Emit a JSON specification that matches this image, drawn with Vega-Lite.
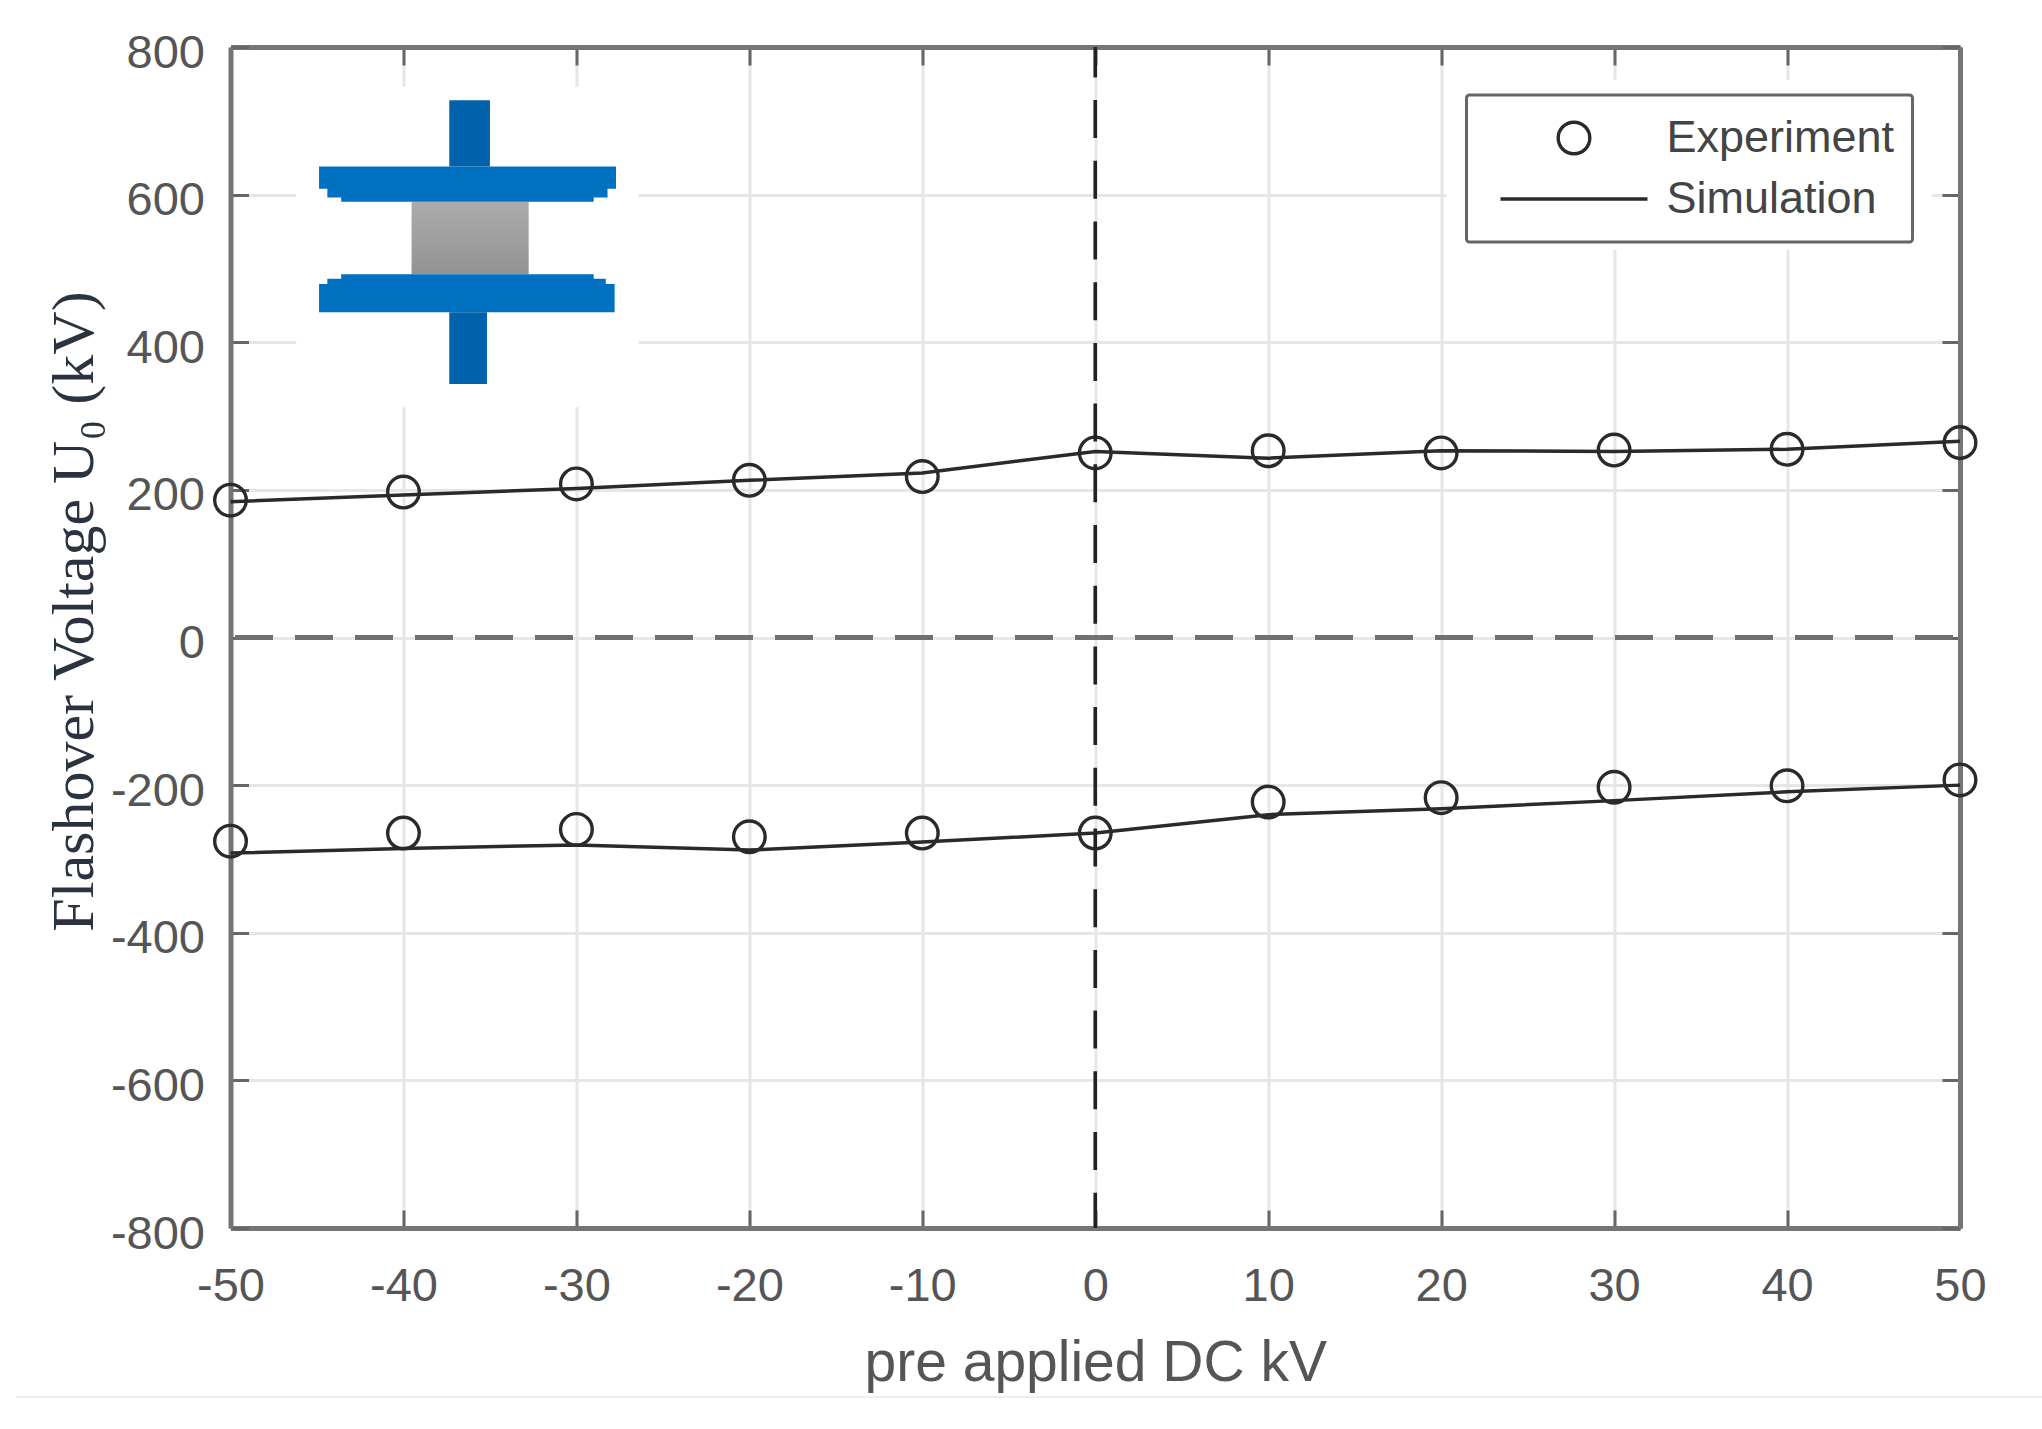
{
"$schema":"https://vega.github.io/schema/vega-lite/v6.json",
"width":1729.5,"height":1181,
"autosize":{"type":"none"},
"padding":{"left":230.5,"top":47,"right":82,"bottom":201},
"background":"white",
"view":{"stroke":null},
"config":{"font":"Liberation Sans","legend":{"strokeWidth":3,"strokeColor":"#666666"}},
"datasets":{
"series":[
{"dc":-50,"kv":186,"series":"Experiment","polarity":"positive"},{"dc":-40,"kv":197,"series":"Experiment","polarity":"positive"},{"dc":-30,"kv":208,"series":"Experiment","polarity":"positive"},{"dc":-20,"kv":213,"series":"Experiment","polarity":"positive"},{"dc":-10,"kv":218,"series":"Experiment","polarity":"positive"},{"dc":0,"kv":250,"series":"Experiment","polarity":"positive"},{"dc":10,"kv":253,"series":"Experiment","polarity":"positive"},{"dc":20,"kv":250,"series":"Experiment","polarity":"positive"},{"dc":30,"kv":254,"series":"Experiment","polarity":"positive"},{"dc":40,"kv":255,"series":"Experiment","polarity":"positive"},{"dc":50,"kv":264,"series":"Experiment","polarity":"positive"},
{"dc":-50,"kv":-276,"series":"Experiment","polarity":"negative"},{"dc":-40,"kv":-265,"series":"Experiment","polarity":"negative"},{"dc":-30,"kv":-260,"series":"Experiment","polarity":"negative"},{"dc":-20,"kv":-270,"series":"Experiment","polarity":"negative"},{"dc":-10,"kv":-265,"series":"Experiment","polarity":"negative"},{"dc":0,"kv":-265,"series":"Experiment","polarity":"negative"},{"dc":10,"kv":-223,"series":"Experiment","polarity":"negative"},{"dc":20,"kv":-217,"series":"Experiment","polarity":"negative"},{"dc":30,"kv":-203,"series":"Experiment","polarity":"negative"},{"dc":40,"kv":-201,"series":"Experiment","polarity":"negative"},{"dc":50,"kv":-193,"series":"Experiment","polarity":"negative"},
{"dc":-50,"kv":184,"series":"Simulation","polarity":"positive"},{"dc":-40,"kv":193,"series":"Simulation","polarity":"positive"},{"dc":-30,"kv":202,"series":"Simulation","polarity":"positive"},{"dc":-20,"kv":213,"series":"Simulation","polarity":"positive"},{"dc":-10,"kv":223,"series":"Simulation","polarity":"positive"},{"dc":0,"kv":252,"series":"Simulation","polarity":"positive"},{"dc":10,"kv":243,"series":"Simulation","polarity":"positive"},{"dc":20,"kv":253,"series":"Simulation","polarity":"positive"},{"dc":30,"kv":252,"series":"Simulation","polarity":"positive"},{"dc":40,"kv":255,"series":"Simulation","polarity":"positive"},{"dc":50,"kv":266,"series":"Simulation","polarity":"positive"},
{"dc":-50,"kv":-292,"series":"Simulation","polarity":"negative"},{"dc":-40,"kv":-286,"series":"Simulation","polarity":"negative"},{"dc":-30,"kv":-281,"series":"Simulation","polarity":"negative"},{"dc":-20,"kv":-288,"series":"Simulation","polarity":"negative"},{"dc":-10,"kv":-277,"series":"Simulation","polarity":"negative"},{"dc":0,"kv":-265,"series":"Simulation","polarity":"negative"},{"dc":10,"kv":-240,"series":"Simulation","polarity":"negative"},{"dc":20,"kv":-232,"series":"Simulation","polarity":"negative"},{"dc":30,"kv":-221,"series":"Simulation","polarity":"negative"},{"dc":40,"kv":-209,"series":"Simulation","polarity":"negative"},{"dc":50,"kv":-200,"series":"Simulation","polarity":"negative"}
],
"insetBackground":[{"x":-46.2,"x2":-26.4,"y":746,"y2":312},{"x":20.3,"x2":48.4,"y":755,"y2":525}],
"plates":[
{"x":-44.88,"x2":-27.71,"y":638,"y2":608},
{"x":-44.4,"x2":-28.2,"y":625,"y2":596},
{"x":-43.6,"x2":-29,"y":620,"y2":590.5},
{"x":-43.6,"x2":-29,"y":492,"y2":470},
{"x":-44.4,"x2":-28.3,"y":486,"y2":470},
{"x":-44.88,"x2":-27.79,"y":479,"y2":440.5}
],
"stems":[{"x":-37.35,"x2":-35.0,"y":728,"y2":638},{"x":-37.35,"x2":-35.17,"y":440.5,"y2":343.6}],
"insulator":[{"x":-39.53,"x2":-32.76,"y":590.5,"y2":492}],
"zeroKv":[{"kv":0}],
"zeroDc":[{"dc":0}],
"footer":[{"x":-62.4,"x2":103.8,"y":-1029}]
},
"resolve":{"axis":{"x":"independent","y":"independent"}},
"layer":[
{"data":{"name":"series"},"transform":[{"filter":"datum.series==='Simulation'"}],
"mark":{"type":"line","color":"#2a2a2a","strokeWidth":3.5,"clip":false},
"encoding":{
"x":{"field":"dc","type":"quantitative","scale":{"domain":[-50,50],"nice":false},
"axis":{"orient":"bottom","values":[-50,-40,-30,-20,-10,0,10,20,30,40,50],"title":"pre applied DC kV","titleFontSize":57,"titleFont":"Liberation Sans","titleFontWeight":"normal","titleColor":"#555555","titlePadding":26,
"labelFontSize":47,"labelColor":"#555555","labelPadding":53,"labelFlush":false,"labelOverlap":false,"labelExpr":"''+datum.value",
"domain":true,"domainColor":"#757575","domainWidth":5,"tickColor":"#666666","tickWidth":3,"tickSize":-18,"grid":true,"gridColor":"#e6e6e6","gridWidth":3}},
"y":{"field":"kv","type":"quantitative","scale":{"domain":[-800,800],"nice":false},
"axis":{"orient":"left","values":[-800,-600,-400,-200,0,200,400,600,800],"title":"Flashover Voltage U₀ (kV)","titleFontSize":60,"titleFont":"Liberation Serif","titleFontWeight":"normal","titleColor":"#2a3440","titleX":-138,"titleY":564,"titleAlign":"center","titleBaseline":"alphabetic",
"labelFontSize":47,"labelColor":"#555555","labelPadding":44,"labelOffset":6,"labelOverlap":false,"labelExpr":"''+datum.value",
"domain":true,"domainColor":"#757575","domainWidth":5,"tickColor":"#666666","tickWidth":3,"tickSize":-18,"grid":true,"gridColor":"#e6e6e6","gridWidth":3}},
"detail":{"field":"polarity"}}},
{"data":{"name":"series"},"transform":[{"filter":"datum.series==='Experiment'"}],
"mark":{"type":"point","filled":false,"strokeWidth":3.4,"color":"#2a2a2a","opacity":1},
"encoding":{
"x":{"field":"dc","type":"quantitative","scale":{"domain":[-50,50],"nice":false},"axis":{"orient":"top","values":[-50,-40,-30,-20,-10,0,10,20,30,40,50],"labels":false,"title":null,"domain":true,"domainColor":"#757575","domainWidth":5,"grid":false,"tickColor":"#666666","tickWidth":3,"tickSize":-18}},
"y":{"field":"kv","type":"quantitative","scale":{"domain":[-800,800],"nice":false},"axis":{"orient":"right","values":[-800,-600,-400,-200,0,200,400,600,800],"labels":false,"title":null,"domain":true,"domainColor":"#757575","domainWidth":5,"grid":false,"tickColor":"#666666","tickWidth":3,"tickSize":-18}},
"shape":{"field":"series","type":"nominal","scale":{"domain":["Experiment","Simulation"],"range":["circle","M-1,0L1,0"]},
"legend":{"title":null,"orient":"none","legendX":1236,"legendY":48,"fillColor":"white","cornerRadius":3,"padding":18,"labelFontSize":45,"labelColor":"#444444","labelFont":"Liberation Sans","labelLimit":400,"clipHeight":50,"rowPadding":11,"symbolStrokeWidth":3.4,"symbolStrokeColor":"#2a2a2a","symbolOffset":14,"labelOffset":17,"encoding":{"labels":{"update":{"dy":{"value":5}}}}}},
"size":{"field":"series","type":"nominal","scale":{"domain":["Experiment","Simulation"],"range":[1000,21600]},"legend":{"title":null}}}},
{"data":{"name":"insetBackground"},"mark":{"type":"rect","color":"white"},
"encoding":{"x":{"field":"x","type":"quantitative","axis":null},"x2":{"field":"x2"},"y":{"field":"y","type":"quantitative","axis":null},"y2":{"field":"y2"}}},
{"data":{"name":"insulator"},"mark":{"type":"rect","color":{"gradient":"linear","x1":0,"y1":0,"x2":0,"y2":1,"stops":[{"offset":0,"color":"#acacac"},{"offset":1,"color":"#929292"}]}},
"encoding":{"x":{"field":"x","type":"quantitative","axis":null},"x2":{"field":"x2"},"y":{"field":"y","type":"quantitative","axis":null},"y2":{"field":"y2"}}},
{"data":{"name":"stems"},"mark":{"type":"rect","color":"#0062aa"},
"encoding":{"x":{"field":"x","type":"quantitative","axis":null},"x2":{"field":"x2"},"y":{"field":"y","type":"quantitative","axis":null},"y2":{"field":"y2"}}},
{"data":{"name":"plates"},"mark":{"type":"rect","color":"#0070c0"},
"encoding":{"x":{"field":"x","type":"quantitative","axis":null},"x2":{"field":"x2"},"y":{"field":"y","type":"quantitative","axis":null},"y2":{"field":"y2"}}},
{"data":{"name":"zeroKv"},"mark":{"type":"rule","color":"#707070","strokeWidth":5,"strokeDash":[38,22],"strokeDashOffset":53},
"encoding":{"y":{"field":"kv","type":"quantitative","axis":null}}},
{"data":{"name":"zeroDc"},"mark":{"type":"rule","color":"#222222","strokeWidth":3.6,"strokeDash":[38,22.7],"strokeDashOffset":7.6},
"encoding":{"x":{"field":"dc","type":"quantitative","axis":null}}},
{"data":{"name":"footer"},"mark":{"type":"rule","color":"#eeeeee","strokeWidth":2,"clip":false},
"encoding":{"x":{"field":"x","type":"quantitative","axis":null},"x2":{"field":"x2"},"y":{"field":"y","type":"quantitative","axis":null}}}
]
}
